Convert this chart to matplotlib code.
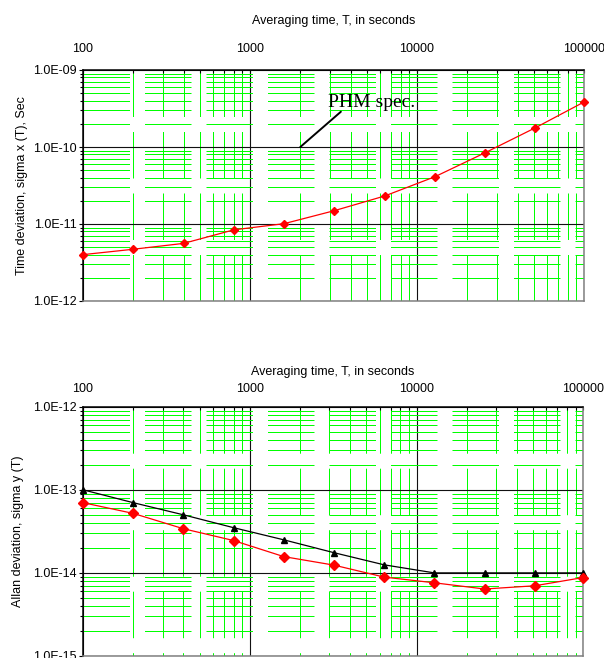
import matplotlib
matplotlib.use('Agg')
import matplotlib.pyplot as plt
from matplotlib.ticker import LogLocator, FuncFormatter, NullFormatter, FixedLocator

plt.rcParams['font.family'] = ['Liberation Sans', 'DejaVu Sans']
plt.rcParams['lines.scale_dashes'] = False

# ---------------- data ----------------
tau = [100, 200, 400, 800, 1600, 3200, 6400, 12800, 25600, 51200, 100000]
tdev_phm = [4.0e-12, 4.7e-12, 5.6e-12, 8.4e-12, 1.01e-11, 1.49e-11, 2.31e-11,
            4.11e-11, 8.43e-11, 1.78e-10, 3.84e-10]
adev_spec = [1.0e-13, 7.0e-14, 5.0e-14, 3.5e-14, 2.5e-14, 1.75e-14, 1.25e-14,
             1.0e-14, 1.0e-14, 1.0e-14, 1.0e-14]
adev_phm = [7.0e-14, 5.2e-14, 3.4e-14, 2.45e-14, 1.57e-14, 1.24e-14, 8.9e-15,
            7.6e-15, 6.4e-15, 7.0e-15, 8.8e-15]
x_ticks = [100, 1000, 10000, 100000]
top_yticks = [1e-12, 1e-11, 1e-10, 1e-9]
bot_yticks = [1e-15, 1e-14, 1e-13, 1e-12]
x_label = 'Averaging time, T, in seconds'
top_ylabel = 'Time deviation, sigma x (T), Sec'
bot_ylabel = 'Allan deviation, sigma y (T)'
annot_text = 'PHM spec.'

PX = 0.72  # points per pixel at dpi 100
GREEN = '#00ff00'
DASH_ON, DASH_OFF = 46.5 * PX, 15.0 * PX

fig = plt.figure(figsize=(6.04, 6.58), dpi=100)
ax1 = fig.add_axes([83 / 604, 1 - 301 / 658, 501 / 604, 231 / 658])
ax2 = fig.add_axes([83 / 604, 1 - 656 / 658, 500.3 / 604, 249.3 / 658])


def style(ax, yticks, vert_offset_px, xpad, xlabel_y, ylabel, ylabel_x):
    ax.set_xscale('log')
    ax.set_yscale('log')
    ax.set_xlim(x_ticks[0], x_ticks[-1])
    ax.set_ylim(yticks[0], yticks[-1])
    ax.xaxis.tick_top()
    ax.xaxis.set_label_position('top')
    ax.xaxis.set_major_locator(FixedLocator(x_ticks))
    ax.xaxis.set_major_formatter(FuncFormatter(lambda v, p: f'{v:.0f}'))
    ax.xaxis.set_minor_locator(LogLocator(base=10, subs=range(2, 10), numticks=30))
    ax.xaxis.set_minor_formatter(NullFormatter())
    ax.yaxis.set_major_locator(FixedLocator(yticks))
    ax.yaxis.set_major_formatter(FuncFormatter(lambda v, p: f'{v:.1E}'))
    ax.yaxis.set_minor_locator(LogLocator(base=10, subs=range(2, 10), numticks=30))
    ax.yaxis.set_minor_formatter(NullFormatter())

    ax.tick_params(axis='x', which='both', direction='in', top=True, bottom=False,
                   labeltop=True, labelbottom=False, length=3 * PX, width=0.8,
                   labelsize=9, pad=xpad)
    ax.tick_params(axis='y', which='major', direction='out', left=True, right=False,
                   length=4 * PX, width=0.8, labelsize=9, pad=1.5)
    ax.tick_params(axis='y', which='minor', direction='out', left=True, right=False,
                   length=3 * PX, width=0.8)

    ax.set_axisbelow(True)
    ax.yaxis.grid(True, which='minor', color=GREEN, lw=1.0 * PX, snap=True,
                  linestyle=(0, (DASH_ON, DASH_OFF)))
    ax.xaxis.grid(True, which='minor', color=GREEN, lw=1.0 * PX, snap=True,
                  linestyle=(vert_offset_px * PX, (DASH_ON, DASH_OFF)))
    ax.xaxis.grid(True, which='major', color='#111111', lw=0.8, linestyle='-')
    ax.yaxis.grid(True, which='major', color='#111111', lw=0.8, linestyle='-')

    for side in ('left', 'top'):
        ax.spines[side].set_color('black')
        ax.spines[side].set_linewidth(1.1)
    for side in ('right', 'bottom'):
        ax.spines[side].set_color('#808080')
        ax.spines[side].set_linewidth(1.1)

    ax.set_xlabel(x_label, fontsize=9, va='center')
    ax.xaxis.set_label_coords(0.5, xlabel_y)
    ax.set_ylabel(ylabel, fontsize=9, va='center')
    ax.yaxis.set_label_coords(ylabel_x, 0.5)


style(ax1, top_yticks, 0.0, 10.8, 1 + (70 - 21) / 231, top_ylabel, (22.5 - 83) / 501)
style(ax2, bot_yticks, 43.2, 8.2, 1 + (406.7 - 372) / 249.3, bot_ylabel, (17.5 - 83) / 500.3)

# top panel
ax1.plot(tau, tdev_phm, color='red', lw=0.9, marker='D', ms=4.5,
         mfc='red', mec='red', clip_on=False, zorder=3)
ax1.annotate('', xy=(2000, 1e-10), xytext=(3500, 2.87e-10),
             arrowprops=dict(arrowstyle='-', color='black', lw=1.4,
                             shrinkA=0, shrinkB=0), zorder=4)
ax1.text(2930, 3.33e-10, annot_text, family=['Liberation Serif', 'DejaVu Serif'],
         fontsize=14, va='baseline', ha='left', zorder=4)

# bottom panel
ax2.plot(tau, adev_spec, color='black', lw=0.9, marker='^', ms=5,
         mfc='black', mec='black', clip_on=False, zorder=3)
ax2.plot(tau, adev_phm, color='red', lw=0.9, marker='D', ms=5.3,
         mfc='red', mec='red', clip_on=False, zorder=3)

fig.savefig('out.png', dpi=100)
